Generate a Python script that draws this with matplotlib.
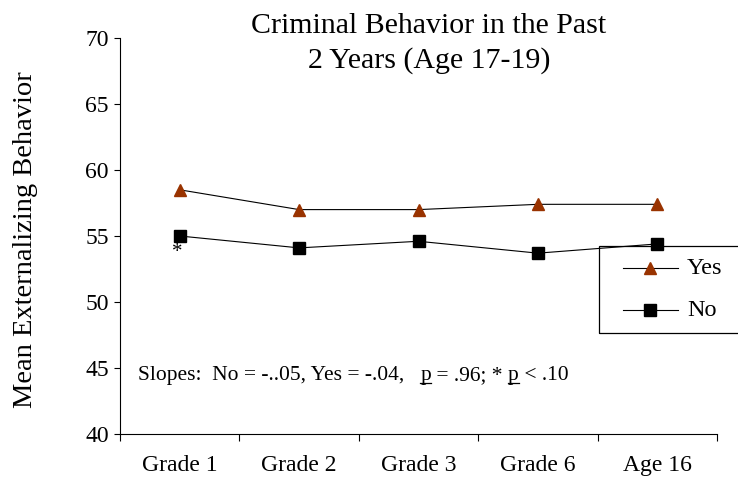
import matplotlib
matplotlib.use("Agg")
import matplotlib.pyplot as plt
from matplotlib.patches import Rectangle
from matplotlib.lines import Line2D
import numpy as np

categories = ["Grade 1", "Grade 2", "Grade 3", "Grade 6", "Age 16"]
yes_values = [58.5, 57.0, 57.0, 57.4, 57.4]
no_values = [55.0, 54.1, 54.6, 53.7, 54.4]
y_ticks = [40, 45, 50, 55, 60, 65, 70]
series_labels = ["Yes", "No"]
title_lines = ["Criminal Behavior in the Past", "2 Years (Age 17-19)"]
ylabel_text = "Mean Externalizing Behavior"

plt.rcParams['font.family'] = ['Liberation Serif', 'DejaVu Serif']

W, H = 738, 484
def fx(px):
    return px / W
def fy(py):
    return 1 - py / H

fig = plt.figure(figsize=(W / 100, H / 100), dpi=100)
ax = fig.add_axes([fx(120), fy(434), (717 - 120) / W, (434 - 38) / H])

yes_color = '#993300'
x = np.arange(len(categories))
yes_style = dict(color='black', lw=0.8, marker='^', markersize=9,
                 markerfacecolor=yes_color, markeredgecolor=yes_color)
no_style = dict(color='black', lw=0.8, marker='s', markersize=8,
                markerfacecolor='black', markeredgecolor='black')
ax.plot(x, yes_values, zorder=3, clip_on=False, **yes_style)
ax.plot(x, no_values, zorder=3, clip_on=False, **no_style)

ax.set_xlim(-0.5, len(categories) - 0.5)
ax.set_ylim(40, 70)
ax.set_yticks(y_ticks)
ax.tick_params(axis='y', direction='out', length=4.5, width=0.8, labelsize=17, pad=3.5)
ax.set_xticks(np.arange(len(categories) + 1) - 0.5)
ax.set_xticklabels([])
ax.tick_params(axis='x', which='major', direction='out', length=5, width=0.8)
ax.set_xticks(x, minor=True)
ax.set_xticklabels(categories, minor=True)
ax.tick_params(axis='x', which='minor', length=0, labelsize=17, pad=15)

for s in ['top', 'right']:
    ax.spines[s].set_visible(False)
for s in ['left', 'bottom']:
    ax.spines[s].set_linewidth(0.8)

# title (two lines)
fig.text(fx(429), fy(33), title_lines[0], ha='center', va='baseline', fontsize=21.5)
fig.text(fx(429), fy(68), title_lines[1], ha='center', va='baseline', fontsize=21.5)

# y label
fig.text(fx(26), fy(240), ylabel_text, rotation=90, ha='center', va='center',
         fontsize=20.5)

# asterisk below Grade 1 "No" point
ax.annotate("*", xy=(x[0], no_values[0]), xytext=(-1.5, -15), textcoords='offset points',
            ha='center', va='baseline', fontsize=15)

# Slopes annotation with underlined p
parts = ["Slopes:  No = -..05, Yes = -.04,   ", "p", " = .96; * ", "p", " < .10"]
fig.canvas.draw()
renderer = fig.canvas.get_renderer()
xpos = fx(138)
ybase = fy(380)
for part in parts:
    t = fig.text(xpos, ybase, part, fontsize=15.5, ha='left', va='baseline')
    bb = t.get_window_extent(renderer=renderer)
    bbf = bb.transformed(fig.transFigure.inverted())
    if part == "p":
        fig.add_artist(Line2D([bbf.x0, bbf.x1], [ybase - 2.5 / H, ybase - 2.5 / H],
                              transform=fig.transFigure, color='black', lw=0.9))
    xpos = bbf.x1

# legend box (extends past the right edge of the figure)
fig.add_artist(Rectangle((fx(599), fy(333)), 200 / W, (333 - 246) / H,
                         transform=fig.transFigure, fill=False, edgecolor='black',
                         lw=0.9, clip_on=False, zorder=1))
for lab, style, yy in [(series_labels[0], yes_style, 268), (series_labels[1], no_style, 310)]:
    fig.add_artist(Line2D([fx(623), fx(678)], [fy(yy), fy(yy)], transform=fig.transFigure,
                          color='black', lw=0.8))
    mk = dict(style)
    mk['lw'] = 0
    fig.add_artist(Line2D([fx(650)], [fy(yy)], transform=fig.transFigure, **mk))
    fig.text(fx(687), fy(yy), lab, ha='left', va='center', fontsize=17.5)

fig.savefig("out.png", dpi=100)
